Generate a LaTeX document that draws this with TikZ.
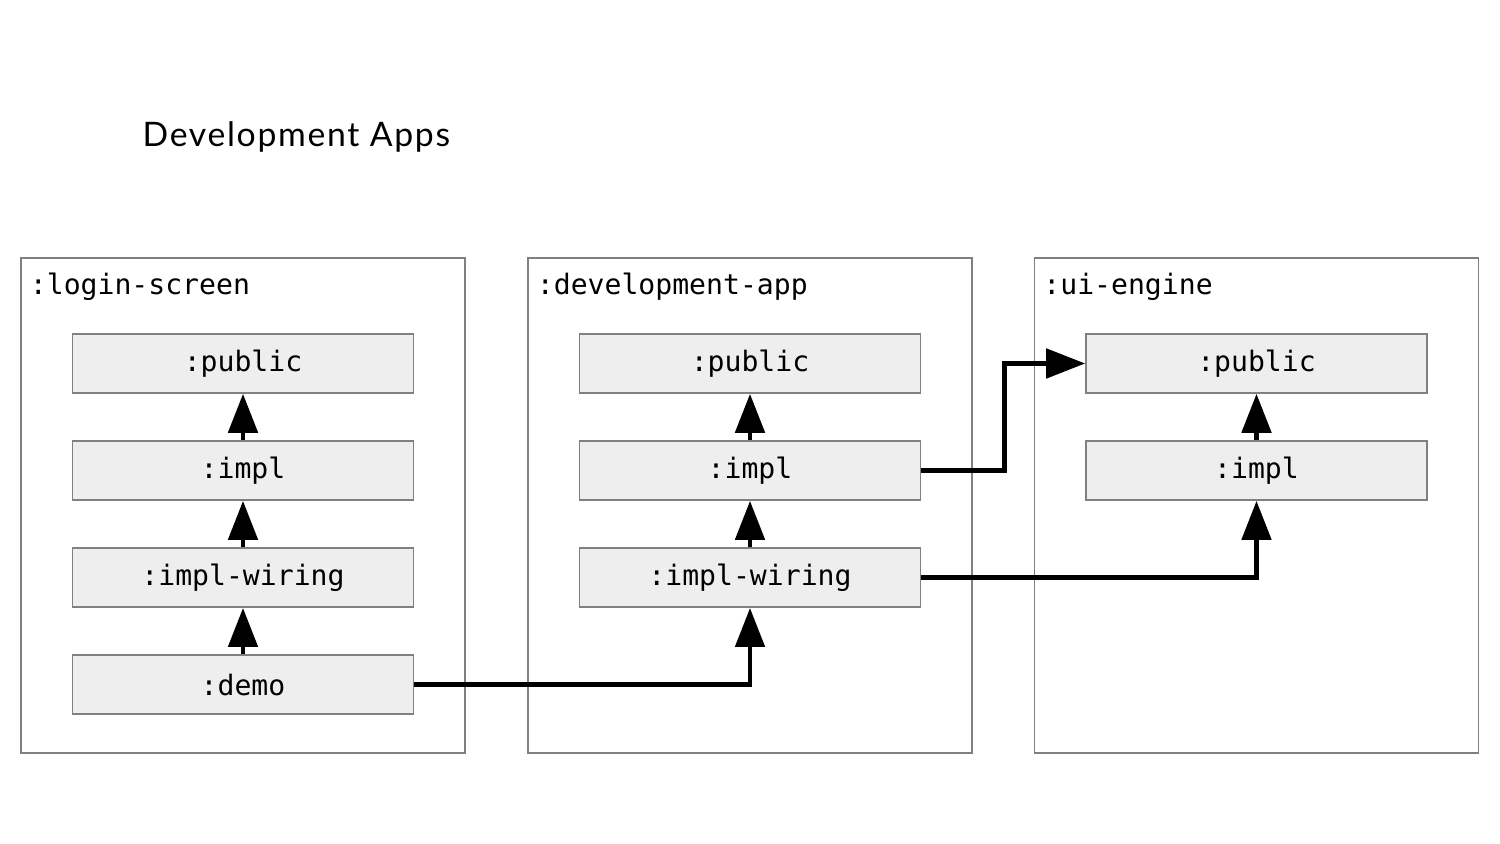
\documentclass[tikz,border=0pt]{standalone}
\usepackage{fontspec}
\setmainfont{Lato}[LetterSpace=5]
\setmonofont{DejaVu Sans Mono}
\usepackage{xcolor}
\usepackage{tikz}
\usetikzlibrary{arrows.meta,positioning,calc}

\definecolor{boxline}{HTML}{808080}
\definecolor{modfill}{HTML}{EEEEEE}

\begin{document}
\begin{tikzpicture}[
  group/.style={rectangle, draw=boxline, line width=0.45pt, minimum width=4.44cm, minimum height=4.95cm, inner sep=0pt},
  grouplabel/.style={anchor=base west, inner sep=0pt, font=\ttfamily\fontsize{8}{9}\selectfont},
  module/.style={rectangle, draw=boxline, fill=modfill, line width=0.45pt, minimum width=3.41cm, minimum height=0.59cm, inner sep=0pt, font=\ttfamily\fontsize{8}{9}\selectfont},
  dep/.style={-{Triangle[length=0.39cm, width=0.29cm]}, line width=1.4pt}
]
\useasboundingbox (0,0) rectangle (15,8.44);

\node[anchor=base west, inner sep=0pt, font=\fontsize{9.6}{11}\selectfont] (title) at (1.42,6.97) {Development Apps};

\node[group] (login) at (2.43,3.385) {};
\node[group] (devapp) at (7.50,3.385) {};
\node[group] (uieng) at (12.565,3.385) {};

\node[grouplabel] (login_lbl) at ($(login.north west)+(0.09,-0.37)$) {:login-screen};
\node[grouplabel] (devapp_lbl) at ($(devapp.north west)+(0.09,-0.37)$) {:development-app};
\node[grouplabel] (uieng_lbl) at ($(uieng.north west)+(0.09,-0.37)$) {:ui-engine};

\node[module, below=0.76cm of login.north] (login_pub) {:public};
\node[module, below=0.465cm of login_pub] (login_impl) {:impl};
\node[module, below=0.465cm of login_impl] (login_wiring) {:impl-wiring};
\node[module, below=0.465cm of login_wiring] (login_demo) {:demo};
\draw[dep] (login_impl) -- (login_pub);
\draw[dep] (login_wiring) -- (login_impl);
\draw[dep] (login_demo) -- (login_wiring);

\node[module, below=0.76cm of devapp.north] (dev_pub) {:public};
\node[module, below=0.465cm of dev_pub] (dev_impl) {:impl};
\node[module, below=0.465cm of dev_impl] (dev_wiring) {:impl-wiring};
\draw[dep] (dev_impl) -- (dev_pub);
\draw[dep] (dev_wiring) -- (dev_impl);

\node[module, below=0.76cm of uieng.north] (ui_pub) {:public};
\node[module, below=0.465cm of ui_pub] (ui_impl) {:impl};
\draw[dep] (ui_impl) -- (ui_pub);

\draw[dep] (login_demo.east) -| (dev_wiring.south);
\draw[dep] (dev_impl.east) -- ++(0.83,0) |- (ui_pub.west);
\draw[dep] (dev_wiring.east) -| (ui_impl.south);

\end{tikzpicture}
\end{document}
